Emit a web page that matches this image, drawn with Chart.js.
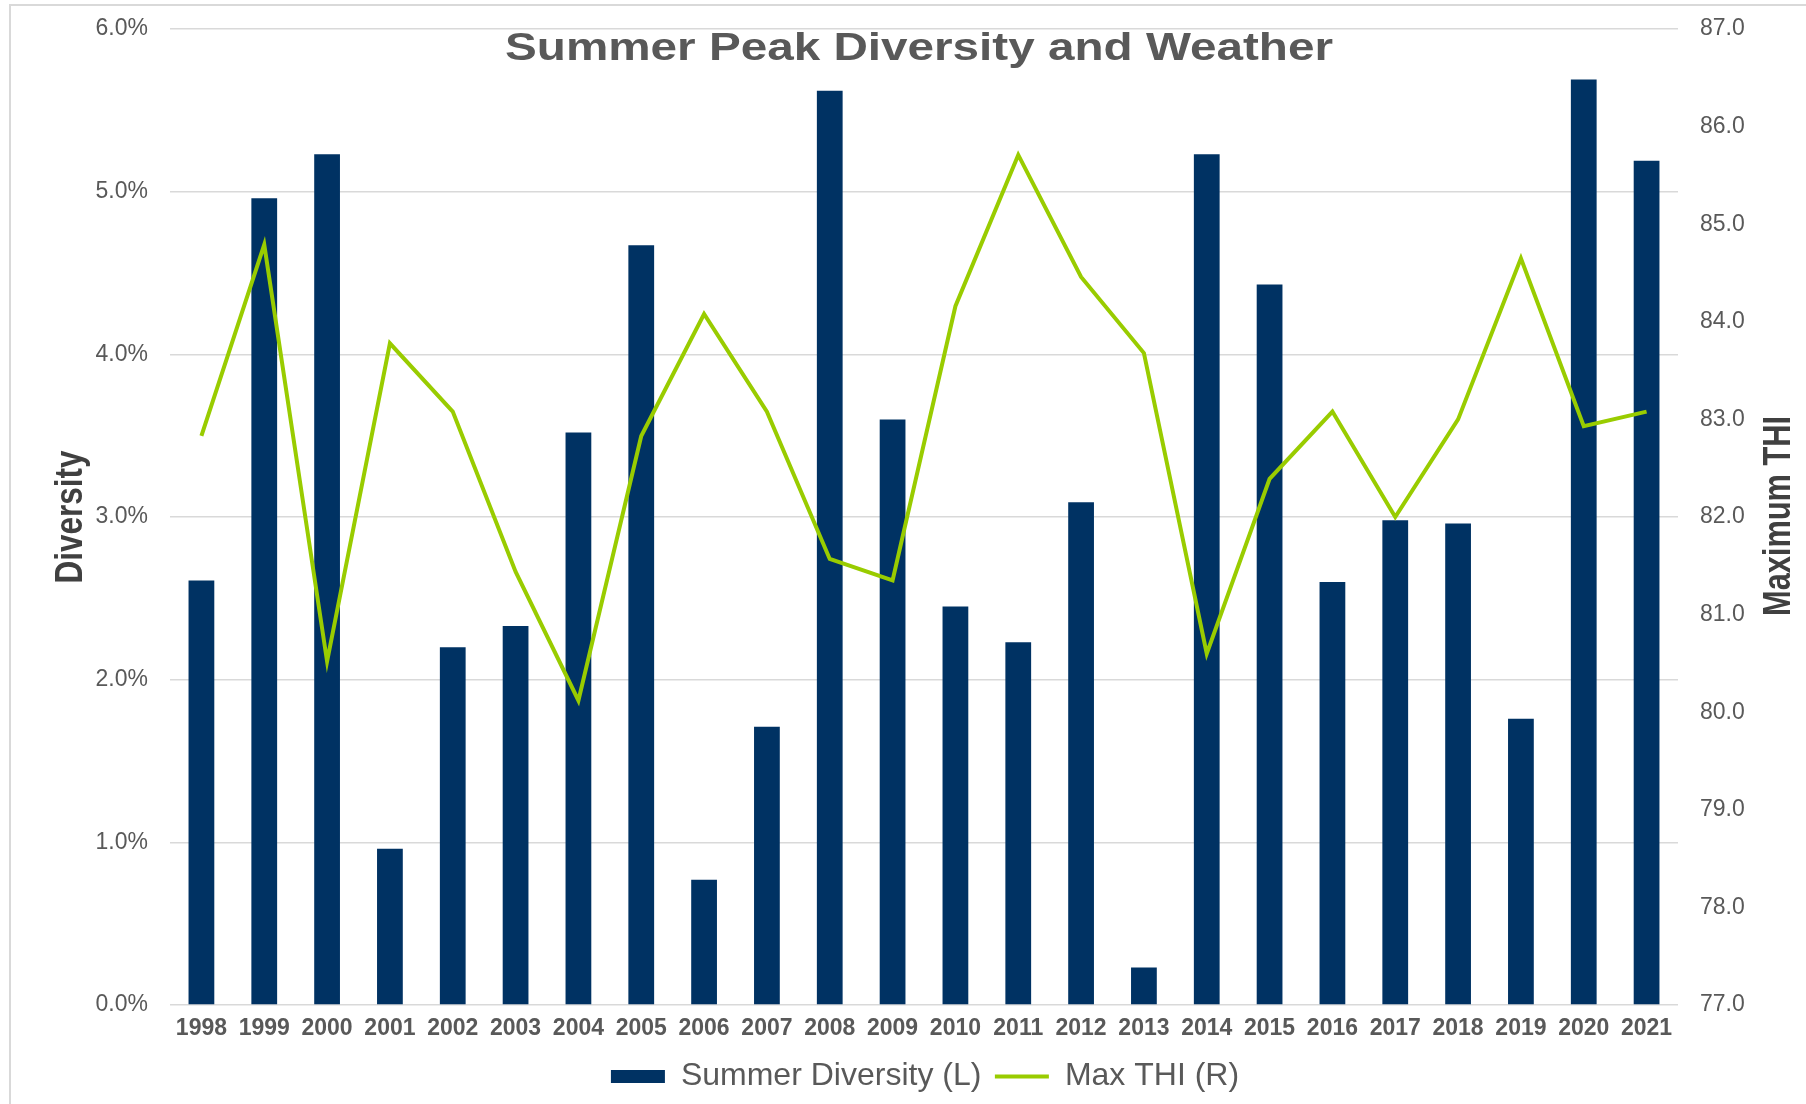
<!DOCTYPE html>
<html>
<head>
<meta charset="utf-8">
<title>Summer Peak Diversity and Weather</title>
<script src="https://cdn.jsdelivr.net/npm/chart.js@4.4.1/dist/chart.umd.min.js"></script>
<style>
  html, body { margin: 0; padding: 0; background: #fff; }
  #wrap { width: 1806px; height: 1104px; position: relative; }
</style>
</head>
<body>
<div id="wrap"><canvas id="diversityChart"></canvas></div>
<script>
const years = ['1998', '1999', '2000', '2001', '2002', '2003', '2004', '2005', '2006', '2007', '2008', '2009',
               '2010', '2011', '2012', '2013', '2014', '2015', '2016', '2017', '2018', '2019', '2020', '2021'];

// summer peak diversity, in percent (left axis)
const summerDiversity = [2.61, 4.96, 5.23, 0.96, 2.20, 2.33, 3.52, 4.67, 0.77, 1.71, 5.62, 3.60,
                         2.45, 2.23, 3.09, 0.23, 5.23, 4.43, 2.60, 2.98, 2.96, 1.76, 5.69, 5.19];

// maximum THI (right axis)
const maxTHI = [82.83, 84.79, 80.52, 83.78, 83.08, 81.44, 80.12, 82.83, 84.08, 83.08, 81.57, 81.35,
                84.16, 85.71, 84.46, 83.68, 80.60, 82.39, 83.08, 82.00, 83.00, 84.65, 82.93, 83.08];

const diversityRange = [0, 6];   // 0.0% .. 6.0%
const thiRange = [77, 87];       // 77.0 .. 87.0

const barColor = '#003263';
const lineColor = '#99cc00';
const textGray = '#595959';

Chart.defaults.font.family = '"Liberation Sans", Arial, sans-serif';
Chart.defaults.color = textGray;

// draws a piece of text squeezed/stretched to a given width
function drawFitted(ctx, text, x, y, font, color, targetWidth, angle) {
    ctx.save();
    ctx.translate(x, y);
    ctx.rotate(angle);
    ctx.font = font;
    let w = ctx.measureText(text).width;
    ctx.scale(targetWidth / w, 1);
    ctx.textAlign = 'center';
    ctx.textBaseline = 'alphabetic';
    ctx.fillStyle = color;
    ctx.fillText(text, 0, 0);
    ctx.restore();
}

const decorations = {
    id: 'decorations',
    beforeDraw(chart) {
        let ctx = chart.ctx;
        ctx.save();
        ctx.fillStyle = '#fff';
        ctx.fillRect(0, 0, chart.width, chart.height);
        ctx.strokeStyle = '#d9d9d9';
        ctx.lineWidth = 2;
        ctx.strokeRect(10, 5, chart.width + 40, chart.height + 40);
        ctx.restore();
    },
    afterDraw(chart) {
        let ctx = chart.ctx;
        let area = chart.chartArea;
        let midX = (area.left + area.right) / 2;
        let midY = (area.top + area.bottom) / 2;
        drawFitted(ctx, 'Summer Peak Diversity and Weather', midX - 5, area.top + 31,
                   'bold 39px "Liberation Sans", Arial, sans-serif', textGray, 828, 0);
        drawFitted(ctx, 'Diversity', 82, midY,
                   'bold 38px "Liberation Sans", Arial, sans-serif', '#404040', 133, -Math.PI / 2);
        drawFitted(ctx, 'Maximum THI', chart.width - 16, midY - 1,
                   'bold 38px "Liberation Sans", Arial, sans-serif', '#404040', 200, -Math.PI / 2);
    }
};

// keep tick padding from pushing the plot area inwards
function noEdgePadding(scale) {
    scale.paddingTop = 0;
    scale.paddingBottom = 0;
}

let ctx = document.getElementById('diversityChart').getContext('2d');

let diversityChart = new Chart(ctx, {
    type: 'bar',
    data: {
        labels: years,
        datasets: [
            {
                type: 'bar',
                label: 'Summer Diversity (L)',
                data: summerDiversity,
                backgroundColor: barColor,
                borderWidth: 0,
                yAxisID: 'y',
                order: 1,
                categoryPercentage: 1,
                barPercentage: 0.41
            },
            {
                type: 'line',
                label: 'Max THI (R)',
                data: maxTHI,
                borderColor: lineColor,
                backgroundColor: lineColor,
                borderWidth: 4,
                pointRadius: 0,
                tension: 0,
                yAxisID: 'y1',
                order: 0
            }
        ]
    },
    options: {
        responsive: true,
        maintainAspectRatio: false,
        animation: false,
        layout: {
            padding: { left: 44, right: 0, top: 29, bottom: 1.5 }
        },
        plugins: {
            title: { display: false },
            tooltip: { enabled: false },
            legend: {
                display: true,
                position: 'bottom',
                labels: {
                    usePointStyle: true,
                    pointStyleWidth: 54,
                    boxHeight: 13,
                    padding: 13.5,
                    color: textGray,
                    font: { size: 32 },
                    sort: (a, b) => a.datasetIndex - b.datasetIndex,
                    generateLabels(chart) {
                        let items = Chart.defaults.plugins.legend.labels.generateLabels(chart);
                        items.forEach(item => {
                            if (item.datasetIndex === 0) {
                                item.pointStyle = 'rect';
                                item.fillStyle = barColor;
                                item.strokeStyle = barColor;
                                item.lineWidth = 0;
                            } else {
                                item.pointStyle = 'line';
                                item.strokeStyle = lineColor;
                                item.lineWidth = 4;
                            }
                        });
                        return items;
                    }
                }
            }
        },
        scales: {
            x: {
                grid: { display: false, drawTicks: false },
                border: { display: false },
                ticks: {
                    color: textGray,
                    font: { size: 23, weight: 'bold' },
                    padding: 10,
                    maxRotation: 0,
                    autoSkip: false
                },
                afterFit(scale) { scale.height = 42; }
            },
            y: {
                position: 'left',
                min: diversityRange[0],
                max: diversityRange[1],
                grid: { color: '#d9d9d9', lineWidth: 1.5, drawTicks: false },
                border: { display: false },
                ticks: {
                    stepSize: 1,
                    padding: 22,
                    color: textGray,
                    font: { size: 23 },
                    callback: v => v.toFixed(1) + '%'
                },
                afterFit(scale) {
                    scale.width = 126;
                    noEdgePadding(scale);
                }
            },
            y1: {
                position: 'right',
                min: thiRange[0],
                max: thiRange[1],
                grid: { display: false, drawTicks: false },
                border: { display: false },
                ticks: {
                    stepSize: 1,
                    padding: 22,
                    color: textGray,
                    font: { size: 23 },
                    callback: v => v.toFixed(1)
                },
                afterFit(scale) {
                    scale.width = 128;
                    noEdgePadding(scale);
                }
            }
        }
    },
    plugins: [decorations]
});
</script>
</body>
</html>
